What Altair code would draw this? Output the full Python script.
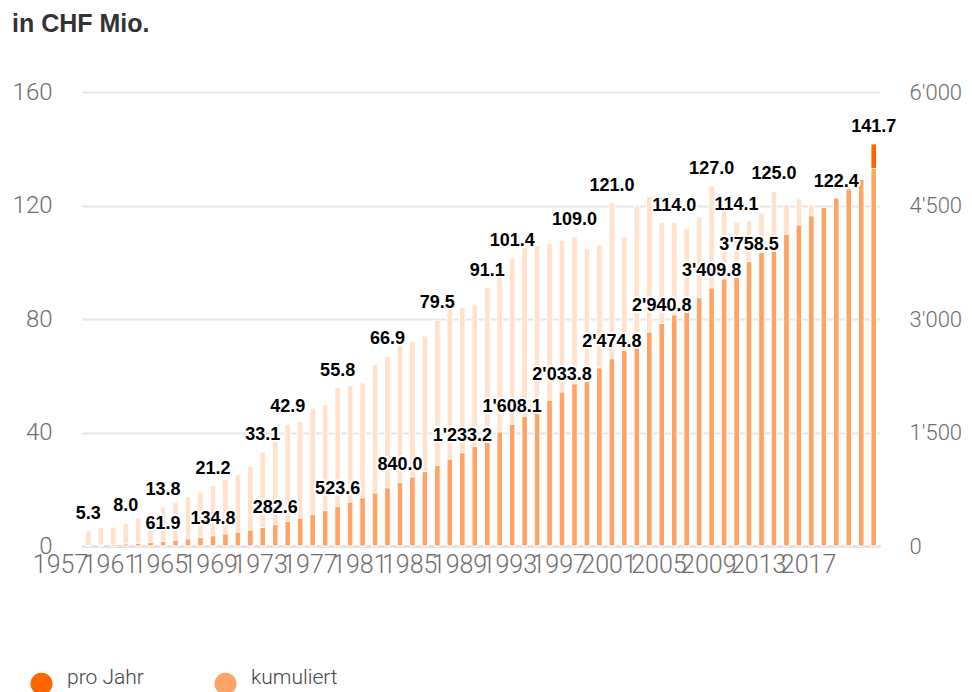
import altair as alt
import pandas as pd

# ---- data ----
years = list(range(1957, 2021))

pro_jahr = [
    5.3, 6.5, 6.6, 8.0, 9.9, 11.8, 13.8, 15.3, 17.4, 19.0,
    21.2, 23.6, 25.2, 28.0, 33.1, 37.9, 42.9, 43.9, 48.6, 49.8,
    55.8, 56.5, 57.5, 64.0, 66.9, 71.5, 72.1, 74.0, 79.5, 83.5,
    84.1, 85.0, 91.1, 97.4, 101.4, 105.4, 105.9, 106.7, 107.7, 109.0,
    104.9, 106.1, 121.0, 109.0, 119.8, 123.2, 114.0, 114.0, 111.9, 116.1,
    127.0, 120.0, 114.1, 114.6, 117.3, 125.0, 120.2, 122.3, 120.2, 112.0,
    122.4, 121.5, 127.0, 141.7,
]

kumuliert = [
    5.3, 11.8, 18.4, 26.4, 36.3, 48.1, 61.9, 77.2, 94.6, 113.6,
    134.8, 158.4, 183.6, 211.6, 244.7, 282.6, 325.5, 369.4, 418.0, 467.8,
    523.6, 580.1, 637.6, 701.6, 768.5, 840.0, 912.1, 986.1, 1065.6, 1149.1,
    1233.2, 1318.2, 1409.3, 1506.7, 1608.1, 1713.5, 1819.4, 1926.1, 2033.8, 2142.8,
    2247.7, 2353.8, 2474.8, 2583.8, 2703.6, 2826.8, 2940.8, 3054.8, 3166.7, 3282.8,
    3409.8, 3529.8, 3643.9, 3758.5, 3875.8, 4000.8, 4121.0, 4243.3, 4363.5, 4475.5,
    4597.9, 4719.4, 4846.4, 4988.1,
]

annual_label_years = [1957, 1960, 1963, 1967, 1971, 1973, 1977, 1981, 1985, 1989,
                      1991, 1996, 1999, 2004, 2007, 2009, 2012, 2017, 2020]
cumulative_label_years = [1963, 1967, 1972, 1977, 1982, 1987, 1991, 1995, 1999,
                          2003, 2007, 2010]
x_tick_years = [1957, 1961, 1965, 1969, 1973, 1977, 1981, 1985, 1989, 1993,
                1997, 2001, 2005, 2009, 2013, 2017]
left_ticks = [0, 40, 80, 120, 160]
right_ticks = [0, 1500, 3000, 4500, 6000]
highlight_year = 2020

series_names = ["pro Jahr", "kumuliert", "pro Jahr (frühere Jahre)"]
series_colors = ["#FF6600", "#FFA366", "#FFE1CC"]


def fmt(v):
    return f"{v:,.1f}".replace(",", "'")


df = pd.DataFrame({"Jahr": years, "pro_jahr": pro_jahr, "kumuliert": kumuliert})
df["serie_jahr"] = ["pro Jahr" if y == highlight_year else "pro Jahr (frühere Jahre)" for y in years]
df["serie_kum"] = "kumuliert"

lab_a = df[df["Jahr"].isin(annual_label_years)].copy()
lab_a["txt"] = [fmt(v) for v in lab_a["pro_jahr"]]
lab_c = df[df["Jahr"].isin(cumulative_label_years)].copy()
lab_c["txt"] = [fmt(v) for v in lab_c["kumuliert"]]

AXIS_FONT = "Roboto"
AXIS_COLOR = "#6e6e6e"

x_enc = alt.X(
    "Jahr:O",
    scale=alt.Scale(domain=years, paddingInner=0.55, paddingOuter=0.28),
    axis=alt.Axis(
        values=x_tick_years, labelAngle=0, labelAlign="right", labelOverlap=False,
        ticks=False, domainColor="#e2e2e2", domainWidth=3, grid=False, title=None,
        labelFont=AXIS_FONT, labelFontWeight=300, labelFontSize=25, labelColor=AXIS_COLOR,
        labelPadding=6,
    ),
)

color_scale = alt.Scale(domain=series_names, range=series_colors)
legend = alt.Legend(
    values=["pro Jahr", "kumuliert"], orient="none", legendX=-52, legendY=580,
    direction="horizontal", title=None, symbolType="circle", symbolSize=490,
    symbolStrokeWidth=0, symbolOpacity=1, labelFont=AXIS_FONT, labelFontWeight=300,
    labelFontSize=21, labelColor="#444444", labelOffset=14, columnPadding=70,
    labelLimit=300, labelBaseline="alphabetic",
)

y_left = alt.Y(
    "pro_jahr:Q",
    scale=alt.Scale(domain=[0, 160], nice=False),
    axis=alt.Axis(
        orient="left", values=left_ticks, title=None, ticks=False, domain=False,
        grid=True, gridColor="#e6e6e6", gridWidth=2,
        labelFont=AXIS_FONT, labelFontWeight=300, labelFontSize=24, labelColor=AXIS_COLOR,
        labelPadding=30,
    ),
)
y_right = alt.Y(
    "kumuliert:Q",
    scale=alt.Scale(domain=[0, 6000], nice=False),
    axis=alt.Axis(
        orient="right", values=right_ticks, title=None, ticks=False, domain=False,
        grid=False, labelFont=AXIS_FONT, labelFontWeight=300, labelFontSize=22,
        labelColor=AXIS_COLOR, labelPadding=29,
        labelExpr="replace(format(datum.value, ','), ',', \"'\")",
    ),
)

bars_a = alt.Chart(df).mark_bar(stroke="white", strokeWidth=1).encode(
    x=x_enc, y=y_left,
    color=alt.Color("serie_jahr:N", scale=color_scale, legend=legend),
)
bars_c = alt.Chart(df).mark_bar(stroke="white", strokeWidth=1).encode(
    x=x_enc, y=y_right,
    color=alt.Color("serie_kum:N", scale=color_scale, legend=legend),
)

LABEL_FONT = "Liberation Sans"


def labels(data, field, domain):
    y = alt.Y(f"{field}:Q", scale=alt.Scale(domain=domain, nice=False), axis=None)
    halo = alt.Chart(data).mark_text(
        dy=-12, baseline="alphabetic", font=LABEL_FONT, fontSize=18, fontWeight="bold",
        stroke="white", strokeWidth=4, strokeJoin="round", fill="white",
    ).encode(x=x_enc, y=y, text="txt:N")
    txt = alt.Chart(data).mark_text(
        dy=-12, baseline="alphabetic", font=LABEL_FONT, fontSize=18, fontWeight="bold",
        fill="#000000",
    ).encode(x=x_enc, y=y, text="txt:N")
    return [halo, txt]


layers = [bars_a, bars_c] + labels(lab_c, "kumuliert", [0, 6000]) + labels(lab_a, "pro_jahr", [0, 160])

chart = alt.layer(*layers).resolve_scale(y="independent").properties(
    width=798,
    height=454,
    autosize=alt.AutoSizeParams(type="none"),
    padding={"left": 74, "top": 84, "right": 84, "bottom": 150},
    title=alt.Title(
        "in CHF Mio.", anchor="start", frame="group", dx=-70, offset=43,
        font="Liberation Sans", fontSize=25, fontWeight="bold", color="#333333",
    ),
).configure_view(stroke=None)

chart.save("out.html", embed_options={"renderer": "svg", "actions": False})
